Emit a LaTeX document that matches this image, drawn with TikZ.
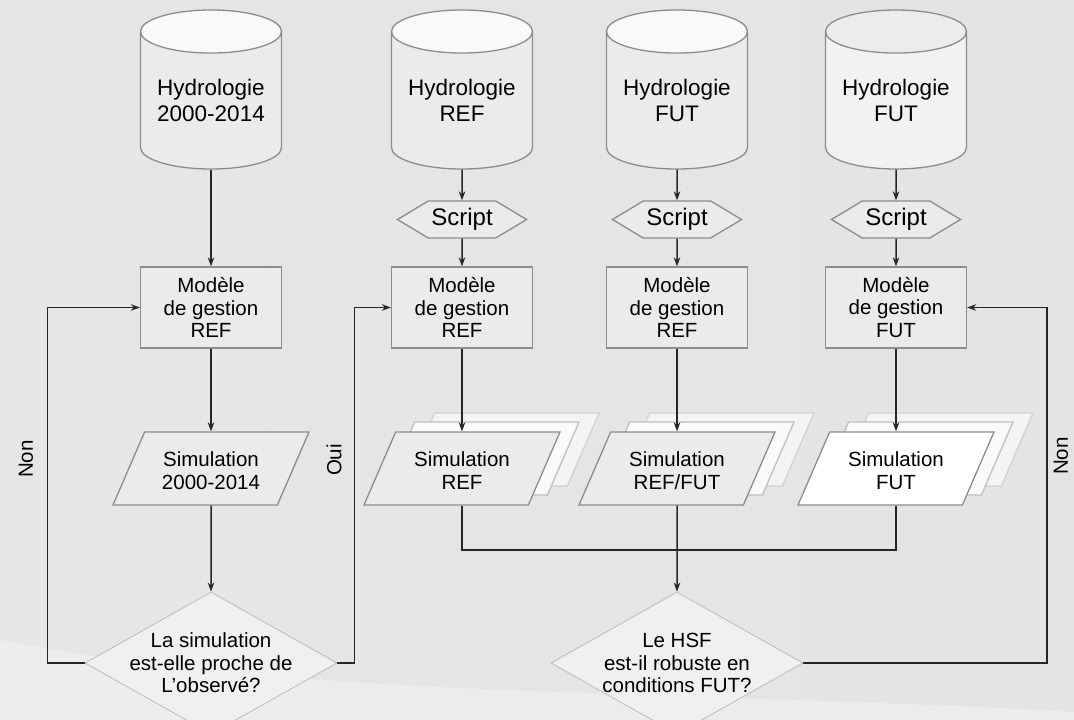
\documentclass[tikz,border=0pt]{standalone}
\usepackage{fontspec}
\setmainfont{Liberation Sans}
\usetikzlibrary{shapes.geometric,shapes.symbols,arrows.meta}

\definecolor{bgleft}{HTML}{E6E6E6}
\definecolor{bgmid}{HTML}{DCDCDC}
\definecolor{bgright}{HTML}{E4E4E4}
\definecolor{edge}{HTML}{8C8C8C}
\definecolor{shapefill}{HTML}{EBEBEB}

\newcommand{\boxfont}{\fontsize{20.5}{22.5}\selectfont}
\newcommand{\dbfont}{\fontsize{22.5}{26}\selectfont}
\newcommand{\tagfont}{\fontsize{24}{26}\selectfont}

\begin{document}
\begin{tikzpicture}[x=1pt,y=-1pt]
    \tikzstyle{database} = [cylinder, shape border rotate=90, aspect=0.4, minimum width=141pt, minimum height=159pt, anchor=shape center, draw=edge, line width=1.3pt, cylinder uses custom fill, cylinder body fill=shapefill, cylinder end fill=gray!5, align=center, font=\dbfont, inner sep=0pt]
    \tikzstyle{script} = [signal, signal to=west and east, signal pointer angle=62, minimum width=129pt, minimum height=37pt, inner sep=0pt, draw=edge, line width=1.3pt, fill=shapefill, font=\tagfont]
    \tikzstyle{model} = [rectangle, minimum width=141pt, minimum height=81pt, align=center, draw=edge, line width=1.3pt, fill=shapefill, font=\boxfont]
    \tikzstyle{sim} = [trapezium, trapezium left angle=56.7, trapezium right angle=123.3, trapezium stretches body, minimum width=196pt, minimum height=73pt, text height=41.5pt, text depth=0pt, align=center, draw=edge, line width=1.3pt, fill=shapefill, font=\boxfont]
    \tikzstyle{simback} = [sim, fill=gray!4, draw=gray!50]
    \tikzstyle{simghost} = [sim, fill=gray!9, draw=gray!35]
    \tikzstyle{decision} = [diamond, aspect=1.775, inner xsep=-12pt, inner ysep=0pt, minimum width=252pt, minimum height=142pt, align=center, draw=gray!55, line width=0.8pt, fill=gray!12, font=\boxfont]
    \tikzstyle{arrow} = [line width=1.5pt, ->, >={Stealth[length=9pt,width=6.5pt]}, draw=black!85]
    \tikzstyle{line} = [line width=1.5pt, draw=black!85]
    \tikzstyle{side} = [rotate=90, font=\boxfont]

    % background
    \useasboundingbox (0,0) rectangle (1074,720);
    \shade [left color=bgleft, middle color=bgmid, right color=bgright] (0,0) rectangle (1074,720);
    \fill [white, opacity=0.3] (0,640) .. controls (300,700) and (700,690) .. (1074,712) -- (1074,720) -- (0,720) -- cycle;

    % data sources
    \node (hyda) [database] at (211,89.5) {Hydrologie\\2000-2014};
    \node (hydb) [database] at (462,89.5) {Hydrologie\\REF};
    \node (hydc) [database] at (677,89.5) {Hydrologie\\FUT};
    \node (hydd) [database, cylinder body fill=gray!10, cylinder end fill=gray!15] at (896,89.5) {Hydrologie\\FUT};

    \node (scrb) [script] at (462,219.5) {Script};
    \node (scrc) [script] at (677,219.5) {Script};
    \node (scrd) [script] at (896,219.5) {Script};

    \node (moda) [model] at (211,307.5) {Modèle\\de gestion\\REF};
    \node (modb) [model] at (462,307.5) {Modèle\\de gestion\\REF};
    \node (modc) [model] at (677,307.5) {Modèle\\de gestion\\REF};
    \node (modd) [model] at (896,307.5) {Modèle\\de gestion\\FUT};

    % simulations (stacked ones get two sheets behind)
    \node (sima) [sim] at (211,468.5) {Simulation\\2000-2014};
    \node (simbz) [simghost] at (501,449.5) {};
    \node (simby) [simback] at (481,458.5) {};
    \node (simb) [sim] at (462,468.5) {Simulation\\REF};
    \node (simcz) [simghost] at (716,449.5) {};
    \node (simcy) [simback] at (696,458.5) {};
    \node (simc) [sim] at (677,468.5) {Simulation\\REF/FUT};
    \node (simdz) [simghost] at (935,449.5) {};
    \node (simdy) [simback] at (915,458.5) {};
    \node (simd) [sim, fill=white] at (896,468.5) {Simulation\\FUT};

    \node (deca) [decision] at (211,663) {La simulation\\est-elle proche de\\L'observé?};
    \node (decb) [decision] at (677,663) {Le HSF\\est-il robuste en\\conditions FUT?};
    \coordinate (merge) at (677,550);

    \node (nona) [side] at (26,459) {Non};
    \node (oui) [side] at (334,460) {Oui};
    \node (nonb) [side] at (1061,456) {Non};

    \draw [arrow] (hyda) -- (moda);
    \draw [arrow] (hydb) -- (scrb);
    \draw [arrow] (scrb) -- (modb);
    \draw [arrow] (hydc) -- (scrc);
    \draw [arrow] (scrc) -- (modc);
    \draw [arrow] (hydd) -- (scrd);
    \draw [arrow] (scrd) -- (modd);

    \draw [arrow] (moda) -- (sima);
    \draw [arrow] (sima) -- (deca);
    \draw [arrow] (modb) -- (simb);
    \draw [arrow] (modc) -- (simc);
    \draw [arrow] (modd) -- (simd);

    \draw [line] (simb) |- (merge) -| (simd);
    \draw [arrow] (simc) -- (decb);

    % feedback loops
    \draw [arrow] (deca.west) -- ++(-37,0) |- (moda.west);
    \draw [arrow] (deca.east) -- ++(17,0) |- (modb.west);
    \draw [arrow] (decb.east) -- ++(243.5,0) |- (modd.east);
\end{tikzpicture}
\end{document}
